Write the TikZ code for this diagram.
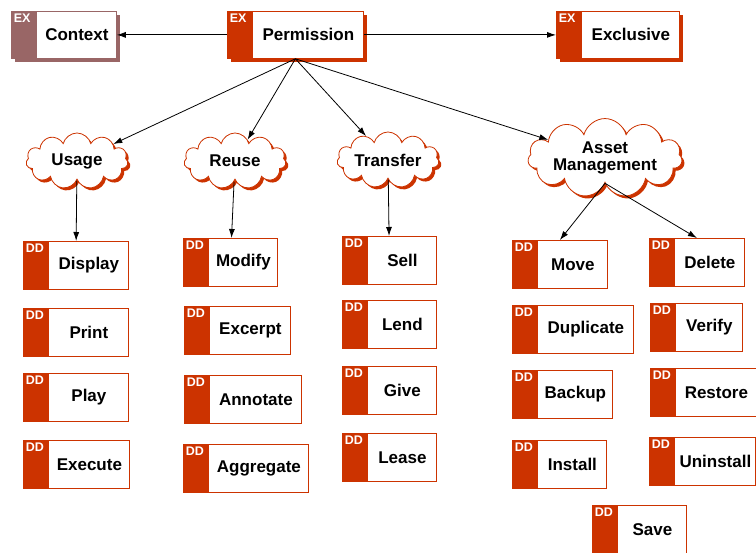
\documentclass[tikz,border=0pt]{standalone}
\usepackage{fontspec}
\setmainfont{Liberation Sans}
\usetikzlibrary{arrows.meta,shapes.symbols,shadows}
\definecolor{ddred}{RGB}{204,51,0}
\definecolor{ctxrose}{RGB}{153,102,102}
\tikzset{
  tagbox/.style 2 args={draw=#1, fill=white, line width=0.8pt, anchor=north west,
    inner sep=0pt, minimum height=48pt, font=\bfseries\fontsize{17}{19}\selectfont,
    execute at begin node={\hspace*{26pt}},
    path picture={
      \fill[#1] (path picture bounding box.north west) rectangle ([xshift=26pt]path picture bounding box.south west);
      \pgftext[left,top,at=\pgfpointadd{\pgfpointanchor{path picture bounding box}{north west}}{\pgfpoint{2.5pt}{-3pt}}]{\color{white}\bfseries\fontsize{12.5}{13}\selectfont #2};
    }},
  ddbox/.style={tagbox={ddred}{DD}},
  exbox/.style={tagbox={#1}{EX}, minimum height=47pt,
    drop shadow={shadow xshift=4pt, shadow yshift=-4pt, fill=#1, opacity=1}},
  puff/.style={cloud, cloud puffs=11, cloud ignores aspect, draw=ddred, fill=white, line width=0.8pt,
    minimum width=102pt, minimum height=56pt, align=center, inner sep=1pt,
    font=\bfseries\fontsize{17}{17}\selectfont,
    drop shadow={shadow xshift=2.5pt, shadow yshift=-2.5pt, fill=ddred, opacity=1}},
  link/.style={-{Latex[length=9pt,width=6pt]}, line width=0.8pt}
}
\begin{document}
\begin{tikzpicture}[x=1pt,y=-1pt]
\useasboundingbox (0,0) rectangle (756,553);

% top row
\node[exbox=ctxrose, minimum width=105pt] (context) at (11,11) {Context};
\node[exbox=ddred, minimum width=136pt] (perm) at (227,11) {Permission};
\node[exbox=ddred, minimum width=123pt] (excl) at (556,11) {Exclusive};

% categories
\node[puff] (usage) at (77,161) {Usage};
\node[puff] (reuse) at (235,161) {Reuse};
\node[puff] (transfer) at (388,160) {Transfer};
\node[puff, minimum width=145pt, minimum height=74pt] (asset) at (605,158) {Asset\\Management};

% usage
\node[ddbox, minimum width=105pt] (display) at (23,241) {Display};
\node[ddbox, minimum width=105pt] (print) at (23,308) {Print};
\node[ddbox, minimum width=105pt] (play) at (23,373) {Play};
\node[ddbox, minimum width=106pt] (execute) at (23,440) {Execute};

% reuse
\node[ddbox, minimum width=94pt] (modify) at (183,238) {Modify};
\node[ddbox, minimum width=106pt] (excerpt) at (184,306) {Excerpt};
\node[ddbox, minimum width=117pt] (annotate) at (184,375) {Annotate};
\node[ddbox, minimum width=125pt] (aggregate) at (183,444) {Aggregate};

% transfer
\node[ddbox, minimum width=94pt] (sell) at (342,236) {Sell};
\node[ddbox, minimum width=94pt] (lend) at (342,300) {Lend};
\node[ddbox, minimum width=94pt] (give) at (342,366) {Give};
\node[ddbox, minimum width=94pt] (lease) at (342,433) {Lease};

% asset management
\node[ddbox, minimum width=95pt] (move) at (512,240) {Move};
\node[ddbox, minimum width=121pt] (duplicate) at (512,305) {Duplicate};
\node[ddbox, minimum width=100pt] (backup) at (512,370) {Backup};
\node[ddbox, minimum width=94pt] (install) at (512,440) {Install};
\node[ddbox, minimum width=95pt] (delete) at (649,238) {Delete};
\node[ddbox, minimum width=92pt] (verify) at (650,303) {Verify};
\node[ddbox, minimum width=106pt] (restore) at (650,368) {Restore};
\node[ddbox, minimum width=106pt] (uninstall) at (649,437) {Uninstall};
\node[ddbox, minimum width=94pt] (save) at (592,505) {Save};

% connectors
\draw[link] (perm) -- (context);
\draw[link] (perm) -- (excl);
\draw[link] (perm.south) -- (usage);
\draw[link] (perm.south) -- (reuse);
\draw[link] (perm.south) -- (transfer);
\draw[link] (perm.south) -- (asset);
\draw[link] (usage) -- (display);
\draw[link] (reuse) -- (modify);
\draw[link] (transfer) -- (sell);
\draw[link] (asset.south) -- (move.north);
\draw[link] (asset.south) -- (delete.north);
\end{tikzpicture}
\end{document}
